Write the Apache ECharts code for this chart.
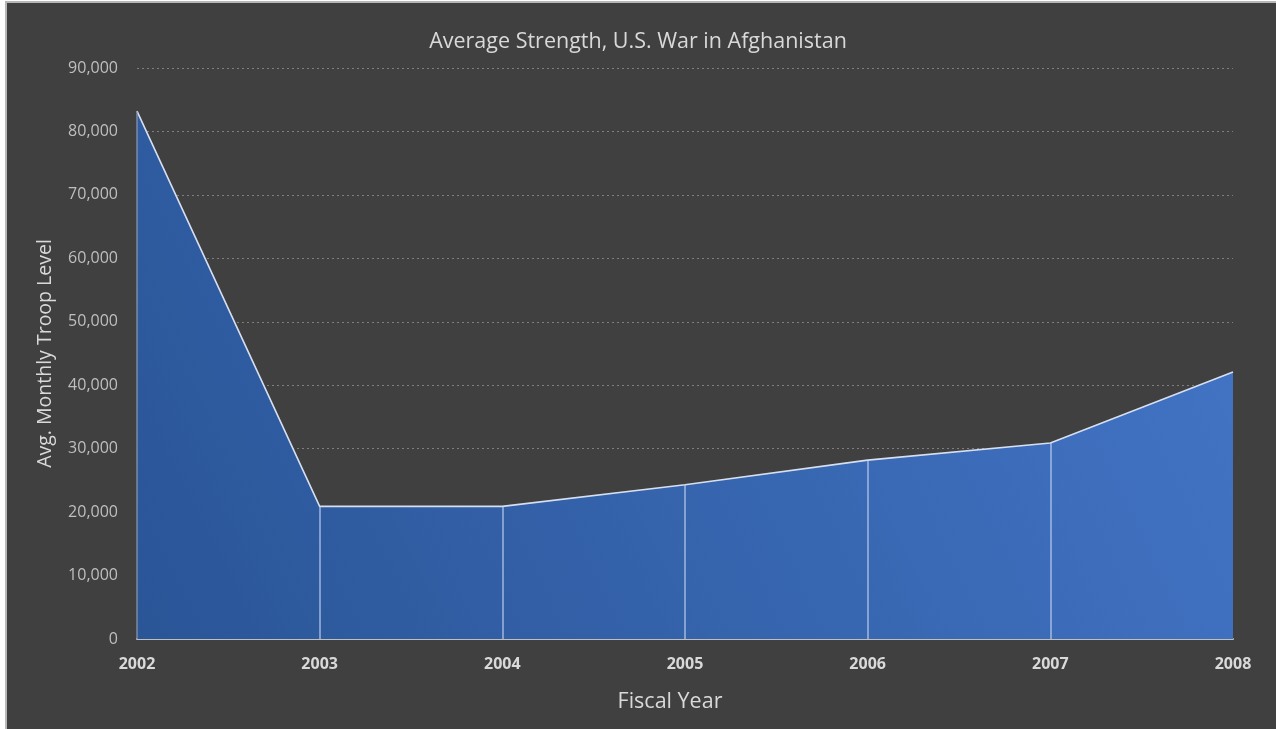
<!DOCTYPE html>
<html>
<head>
<meta charset="utf-8">
<script src="https://cdn.jsdelivr.net/npm/echarts@6/dist/echarts.min.js"></script>
<style>
  html, body { margin: 0; padding: 0; background: #ffffff; }
  #frame { position: absolute; left: 5px; top: 1px; width: 1300px; height: 760px;
           border-left: 2px solid #b8b8b8; border-top: 2px solid #b8b8b8; background: #404040; }
  #chart { position: absolute; left: 0; top: 0; width: 1276px; height: 729px; }
</style>
</head>
<body>
<div id="frame"></div>
<div id="chart"></div>
<script>
// Fiscal years and average monthly troop levels
const years = ['2002', '2003', '2004', '2005', '2006', '2007', '2008'];
const troops = [83200, 20900, 20900, 24300, 28200, 30900, 42100];
const yTicks = { min: 0, max: 90000, interval: 10000 };

const chart = echarts.init(document.getElementById('chart'), null, { renderer: 'canvas' });

// vertical drop lines from the axis up to each point (skip the end points)
const dropLines = years.slice(1, -1).map((y, i) => [
  { coord: [y, 0] },
  { coord: [y, troops[i + 1]] }
]);

chart.setOption({
  backgroundColor: 'transparent',
  animation: false,
  textStyle: { fontFamily: '"Open Sans", sans-serif' },
  title: {
    text: 'Average Strength, U.S. War in Afghanistan',
    left: 'center',
    top: 26,
    textStyle: { color: '#d9d9d9', fontSize: 21.5, fontWeight: 'normal', fontFamily: '"Open Sans", sans-serif' }
  },
  grid: { left: 137, right: 43, top: 68, bottom: 90, containLabel: false },
  xAxis: {
    type: 'category',
    data: years,
    boundaryGap: false,
    name: 'Fiscal Year',
    nameLocation: 'middle',
    nameGap: 52,
    nameTextStyle: { color: '#d9d9d9', fontSize: 21.5, padding: [0, 30, 0, 0] },
    axisLine: { show: true, lineStyle: { color: '#bfbfbf', width: 2 } },
    axisTick: { show: false },
    axisLabel: { color: '#d9d9d9', fontSize: 16, fontWeight: 'bold', margin: 17 },
    splitLine: { show: false }
  },
  yAxis: {
    type: 'value',
    min: yTicks.min,
    max: yTicks.max,
    interval: yTicks.interval,
    name: 'Avg. Monthly Troop Level',
    nameLocation: 'middle',
    nameGap: 82,
    nameTextStyle: { color: '#d9d9d9', fontSize: 19.5 },
    axisLine: { show: false },
    axisTick: { show: false },
    axisLabel: {
      color: '#bfbfbf', fontSize: 16, margin: 19,
      formatter: v => v.toLocaleString('en-US')
    },
    splitLine: { show: true, lineStyle: { color: '#7f7f7f', type: [2, 3], width: 1 } }
  },
  series: [{
    type: 'line',
    data: troops,
    symbol: 'none',
    lineStyle: { color: '#d6dff0', width: 1.6 },
    areaStyle: {
      opacity: 1,
      color: new echarts.graphic.LinearGradient(0, 1, 1, 0, [
        { offset: 0, color: '#2a5597' },
        { offset: 1, color: '#4476c8' }
      ])
    },
    markLine: {
      silent: true,
      symbol: 'none',
      label: { show: false },
      lineStyle: { color: 'rgba(196,212,240,0.75)', width: 1.5, type: 'solid' },
      data: dropLines
    },
    z: 3
  }, {
    // thin edge on the left side of the area
    type: 'line',
    data: [[years[0], 0], [years[0], troops[0]]],
    symbol: 'none',
    lineStyle: { color: '#8c9bb5', width: 1.2 },
    z: 4
  }]
});
</script>
</body>
</html>
